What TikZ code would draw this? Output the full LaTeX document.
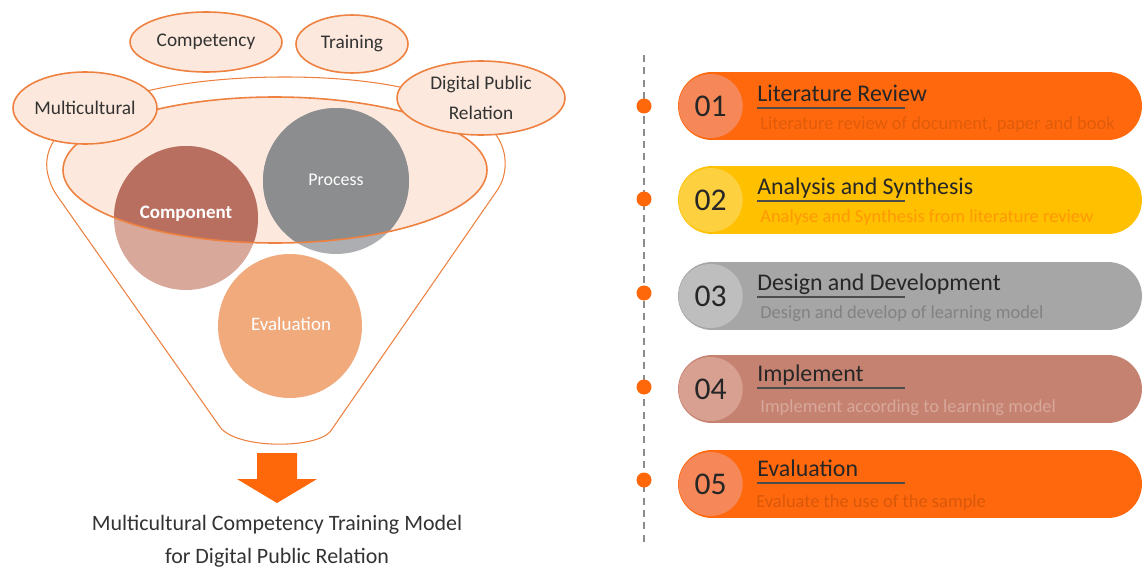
\documentclass[tikz,border=0pt]{standalone}
\usepackage{fontspec}
\setmainfont{Carlito}
\usetikzlibrary{shapes.geometric,shapes.misc}

\begin{document}
\begin{tikzpicture}[x=0.02cm, y=-0.02cm,
	tag/.style={ellipse, draw=morange, line width=0.9pt, fill=mpeach, inner sep=0pt, text=black!80, font=\fontsize{11}{17}\selectfont},
	funnel/.style={draw=morange, line width=0.6pt},
	circtext/.style={text=white, font=\fontsize{10.8}{13}\selectfont},
	pill/.style={rounded rectangle, minimum width=9.28cm, minimum height=1.36cm, inner sep=0pt},
	numdot/.style={circle, minimum size=1.28cm, inner sep=0pt, text=black!85, font=\fontsize{18}{20}\selectfont},
	title/.style={anchor=base west, inner sep=0pt, text=black!85, font=\fontsize{13.6}{16}\selectfont},
	sub/.style={anchor=base west, inner sep=0pt, font=\fontsize{10.5}{12}\selectfont},
	uline/.style={draw=black!70, line width=0.9pt},
	dot/.style={circle, fill=morange2, minimum size=0.3cm, inner sep=0pt},
	dashline/.style={draw=black!45, line width=0.6pt, dash pattern=on 4pt off 3pt}
	]
	\definecolor{morange}{RGB}{238,128,64}
	\definecolor{morange2}{RGB}{255,104,10}
	\definecolor{mpeach}{RGB}{252,232,220}
	\definecolor{compdark}{RGB}{185,111,96}
	\definecolor{complight}{RGB}{216,168,154}
	\definecolor{procdark}{RGB}{140,141,142}
	\definecolor{proclight}{RGB}{172,174,177}
	\definecolor{evalfill}{RGB}{240,170,124}
	\definecolor{pillA}{RGB}{255,104,12}
	\definecolor{pillAc}{RGB}{245,135,88}
	\definecolor{pillB}{RGB}{255,192,0}
	\definecolor{pillBc}{RGB}{253,208,64}
	\definecolor{pillC}{RGB}{166,166,166}
	\definecolor{pillCc}{RGB}{190,190,190}
	\definecolor{pillD}{RGB}{198,130,112}
	\definecolor{pillDc}{RGB}{215,160,145}
	
	\useasboundingbox (0,0) rectangle (1143,568);
	
	% Funnel outline
	\draw[funnel] (58,197) -- (220,427) .. controls (236,449) and (314,449) .. (330,432)
	-- (496,192) .. controls (501,185) and (504,178) .. (505,168)
	.. controls (510,110) and (420,77) .. (285,77)
	.. controls (150,77) and (40,110) .. (47,170)
	.. controls (49,182) and (53,190) .. (58,197);
	
	% Inner ellipse fill
	\fill[mpeach] (275,170) ellipse [x radius=212, y radius=73];
	
	% Circles (lighter outside the ellipse)
	\fill[complight] (186,218) circle [radius=72];
	\fill[proclight] (336,181) circle [radius=73];
	\begin{scope}
		\clip (275,170) ellipse [x radius=212, y radius=73];
		\fill[compdark] (186,218) circle [radius=72];
		\fill[procdark] (336,181) circle [radius=73];
	\end{scope}
	\fill[evalfill] (290,326) circle [radius=72];
	
	% Inner ellipse border
	\draw[morange, line width=0.9pt] (275,170) ellipse [x radius=212, y radius=73];
	
	% Circle labels
	\node[circtext, font=\fontsize{10.8}{13}\selectfont\bfseries] (comp) at (186,214) {Component};
	\node[circtext, font=\fontsize{10.2}{13}\selectfont] (proc) at (336,180) {Process};
	\node[circtext] (eval) at (291,324) {Evaluation};
	
	% Keyword ellipses
	\node[tag, minimum width=3.04cm, minimum height=1.2cm] (comptag) at (206,42) {Competency};
	\node[tag, minimum width=2.24cm, minimum height=1.16cm] (train) at (352,44) {Training};
	\node[tag, minimum width=2.88cm, minimum height=1.44cm] (multi) at (85,108) {Multicultural};
	\node[tag, minimum width=3.36cm, minimum height=1.48cm, align=center] (dpr) at (481,98) {Digital Public\\Relation};
	
	% Output arrow and model name
	\fill[morange2] (257,453) -- (297,453) -- (297,479) -- (317,479) -- (277,503)
	-- (237,479) -- (257,479) -- cycle;
	\node[align=center, text=black!80, font=\fontsize{12.5}{18.7}\selectfont] (model) at (277,541)
	{Multicultural Competency Training Model\\for Digital Public Relation};
	
	% Timeline
	\coordinate (ltop) at (644,55);
	\coordinate (lbot) at (644,545);
	\draw[dashline] (ltop) -- (lbot);
	
	% Step 01
	\node[pill, fill=pillA] (pill1) at (910,106) {};
	\node[numdot, fill=pillAc] (n1) at ([xshift=0.66cm]pill1.west) {01};
	\node[title] (t1) at (757,101) {Literature Review};
	\draw[uline] ([yshift=-4pt]t1.base west) -- ++(148,0);
	\node[sub, text=black!12!pillA] (s1) at (760,129) {Literature review of document, paper and book};
	\node[dot] (d1) at (644,106) {};
	
	% Step 02
	\node[pill, fill=pillB] (pill2) at (910,200) {};
	\node[numdot, fill=pillBc] (n2) at ([xshift=0.66cm]pill2.west) {02};
	\node[title] (t2) at (757,194) {Analysis and Synthesis};
	\draw[uline] ([yshift=-4pt]t2.base west) -- ++(148,0);
	\node[sub, text=pillA!45!pillB] (s2) at (760,222) {Analyse and Synthesis from literature review};
	\node[dot] (d2) at (644,199) {};
	
	% Step 03
	\node[pill, fill=pillC] (pill3) at (910,296) {};
	\node[numdot, fill=pillCc] (n3) at ([xshift=0.66cm]pill3.west) {03};
	\node[title] (t3) at (757,290) {Design and Development};
	\draw[uline] ([yshift=-4pt]t3.base west) -- ++(148,0);
	\node[sub, text=black!22!pillC] (s3) at (760,318) {Design and develop of learning model};
	\node[dot] (d3) at (644,293) {};
	
	% Step 04
	\node[pill, fill=pillD] (pill4) at (910,389) {};
	\node[numdot, fill=pillDc] (n4) at ([xshift=0.66cm]pill4.west) {04};
	\node[title] (t4) at (757,381) {Implement};
	\draw[uline] ([yshift=-4pt]t4.base west) -- ++(148,0);
	\node[sub, text=white!30!pillD] (s4) at (760,412) {Implement according to learning model};
	\node[dot] (d4) at (644,387) {};
	
	% Step 05
	\node[pill, fill=pillA] (pill5) at (910,484) {};
	\node[numdot, fill=pillAc] (n5) at ([xshift=0.66cm]pill5.west) {05};
	\node[title] (t5) at (757,476) {Evaluation};
	\draw[uline] ([yshift=-4pt]t5.base west) -- ++(148,0);
	\node[sub, text=black!15!pillA] (s5) at (756,507) {Evaluate the use of the sample};
	\node[dot] (d5) at (644,480) {};
	
\end{tikzpicture}
\end{document}
